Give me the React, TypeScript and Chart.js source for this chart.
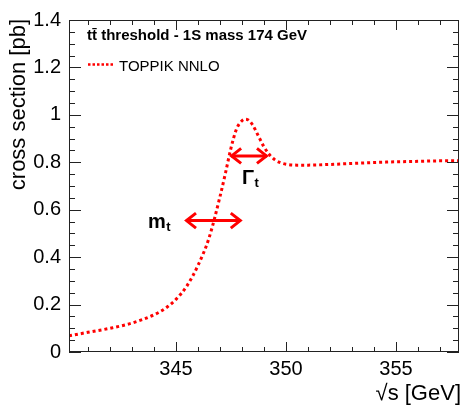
import { useEffect, useRef } from "react";
import { Chart, registerables } from "chart.js";

Chart.register(...registerables);

// ---- data ----
const energies = [
  340.14, 341, 342, 343, 344, 344.5, 345, 345.5, 346, 346.5, 347, 347.25, 347.5,
  347.75, 348, 348.15, 348.3, 348.5, 348.75, 349, 349.25, 349.5, 349.75, 350,
  350.5, 351, 352, 353, 354, 355, 356, 357, 357.86,
];
const crossSections = [
  0.068, 0.083, 0.1, 0.122, 0.157, 0.183, 0.222, 0.279, 0.365, 0.48, 0.655,
  0.755, 0.86, 0.94, 0.975, 0.982, 0.978, 0.955, 0.91, 0.865, 0.832, 0.81,
  0.798, 0.792, 0.788, 0.788, 0.791, 0.795, 0.799, 0.802, 0.804, 0.806, 0.806,
];
const xRange = [340.14, 357.86];
const yRange = [0, 1.4];
const xMajorStep = 5;
const xMinorStep = 1;
const yMajorStep = 0.2;
const yMinorStep = 0.05;
const seriesLabel = "TOPPIK NNLO";
const headerText = "t\u0074\u0304 threshold - 1S mass 174 GeV";
const xTitle = "\u221As [GeV]";
const yTitle = "cross section [pb]";
// annotation arrows (data coordinates)
const massArrow = { x0: 345.41, x1: 347.99, y: 0.554 };
const widthArrow = { x0: 347.46, x1: 349.18, y: 0.827 };
const massLabel = { x: 343.73, y: 0.522, main: "m", sub: "t" };
const widthLabel = { x: 348.0, y: 0.708, main: "\u0393", sub: "t" };

const FONT = "'Liberation Sans', Arial, Helvetica, sans-serif";
const RED = "#ff0000";

const overlay = {
  id: "rootStyle",
  afterDraw(chart: any) {
    const { ctx, chartArea } = chart;
    const { left, right, top, bottom } = chartArea;
    const xs = chart.scales.x;
    const ys = chart.scales.y;
    ctx.save();

    // frame
    ctx.strokeStyle = "#222";
    ctx.lineWidth = 1;
    ctx.strokeRect(left + 0.5, top + 0.5, right - left - 1, bottom - top - 1);

    // x ticks (inward, top and bottom)
    ctx.beginPath();
    const xStart = Math.ceil(xRange[0] / xMinorStep);
    const xEnd = Math.floor(xRange[1] / xMinorStep);
    for (let k = xStart; k <= xEnd; k++) {
      const v = k * xMinorStep;
      const len = Math.abs(v % xMajorStep) < 1e-9 ? 10 : 5;
      const px = Math.round(xs.getPixelForValue(v)) + 0.5;
      ctx.moveTo(px, bottom);
      ctx.lineTo(px, bottom - len);
      ctx.moveTo(px, top);
      ctx.lineTo(px, top + len);
    }
    // y ticks (inward, left and right)
    const nY = Math.round((yRange[1] - yRange[0]) / yMinorStep);
    const ratio = Math.round(yMajorStep / yMinorStep);
    for (let k = 0; k <= nY; k++) {
      const v = yRange[0] + k * yMinorStep;
      const len = k % ratio === 0 ? 12 : 6;
      const py = Math.round(ys.getPixelForValue(v)) + 0.5;
      ctx.moveTo(left, py);
      ctx.lineTo(left + len, py);
      ctx.moveTo(right, py);
      ctx.lineTo(right - len, py);
    }
    ctx.stroke();

    // axis titles
    ctx.fillStyle = "#000";
    ctx.font = `22px ${FONT}`;
    ctx.textAlign = "right";
    ctx.textBaseline = "alphabetic";
    ctx.fillText(xTitle, 461, 400);
    ctx.save();
    ctx.translate(25, top - 1);
    ctx.rotate(-Math.PI / 2);
    ctx.textAlign = "right";
    ctx.fillText(yTitle, 0, 0);
    ctx.restore();

    // header text
    ctx.textAlign = "left";
    ctx.font = `bold 15px ${FONT}`;
    ctx.fillText(headerText, 87, 40);

    // legend
    ctx.strokeStyle = RED;
    ctx.lineWidth = 2.5;
    ctx.setLineDash([2.5, 2]);
    ctx.beginPath();
    ctx.moveTo(88, 64.5);
    ctx.lineTo(113, 64.5);
    ctx.stroke();
    ctx.setLineDash([]);
    ctx.font = `15px ${FONT}`;
    ctx.fillStyle = "#000";
    ctx.fillText(chart.data.datasets[0].label, 119, 70.5);

    // arrows
    const drawArrow = (a: { x0: number; x1: number; y: number }) => {
      const p0 = xs.getPixelForValue(a.x0);
      const p1 = xs.getPixelForValue(a.x1);
      const py = ys.getPixelForValue(a.y);
      ctx.strokeStyle = RED;
      ctx.lineWidth = 3;
      ctx.lineJoin = "miter";
      ctx.beginPath();
      ctx.moveTo(p0 + 1, py);
      ctx.lineTo(p1 - 1, py);
      ctx.stroke();
      ctx.beginPath();
      ctx.moveTo(p0 + 11, py - 7.5);
      ctx.lineTo(p0 + 1.5, py);
      ctx.lineTo(p0 + 11, py + 7.5);
      ctx.moveTo(p1 - 11, py - 7.5);
      ctx.lineTo(p1 - 1.5, py);
      ctx.lineTo(p1 - 11, py + 7.5);
      ctx.stroke();
    };
    drawArrow(massArrow);
    drawArrow(widthArrow);

    const drawLabel = (l: { x: number; y: number; main: string; sub: string }) => {
      const px = xs.getPixelForValue(l.x);
      const py = ys.getPixelForValue(l.y);
      ctx.fillStyle = "#000";
      ctx.textAlign = "left";
      ctx.font = `bold 20px ${FONT}`;
      ctx.fillText(l.main, px, py);
      const w = ctx.measureText(l.main).width;
      ctx.font = `bold 13px ${FONT}`;
      ctx.fillText(l.sub, px + w + 0.5, py + 3);
    };
    drawLabel(massLabel);
    drawLabel(widthLabel);

    ctx.restore();
  },
};

export default function App() {
  const ref = useRef<HTMLCanvasElement | null>(null);
  useEffect(() => {
    document.body.style.margin = "0";
    const canvas = ref.current;
    if (!canvas) return;
    const chart = new Chart(canvas, {
      type: "scatter",
      data: {
        datasets: [
          {
            label: seriesLabel,
            data: energies.map((e, i) => ({ x: e, y: crossSections[i] })),
            showLine: true,
            borderColor: RED,
            backgroundColor: RED,
            borderWidth: 3,
            borderDash: [3, 3],
            pointRadius: 0,
            cubicInterpolationMode: "monotone",
            fill: false,
          },
        ],
      },
      options: {
        responsive: false,
        animation: false,
        devicePixelRatio: 1,
        layout: { padding: { left: 0, top: 14, right: 3, bottom: 0 } },
        plugins: { legend: { display: false }, tooltip: { enabled: false } },
        scales: {
          x: {
            type: "linear",
            min: xRange[0],
            max: xRange[1],
            grid: { display: false, drawTicks: false, tickLength: 0 },
            border: { display: false },
            ticks: {
              stepSize: xMajorStep,
              includeBounds: false,
              maxRotation: 0,
              padding: 5,
              color: "#000",
              font: { family: FONT, size: 20 },
              callback: (v: any) => String(Math.round(Number(v) * 100) / 100),
            },
            afterFit: (s: any) => {
              s.height = 53;
            },
          },
          y: {
            type: "linear",
            min: yRange[0],
            max: yRange[1],
            grid: { display: false, drawTicks: false, tickLength: 0 },
            border: { display: false },
            ticks: {
              stepSize: yMajorStep,
              padding: 8,
              color: "#000",
              font: { family: FONT, size: 20 },
              callback: (v: any) => String(Math.round(Number(v) * 100) / 100),
            },
            afterFit: (s: any) => {
              s.width = 69;
            },
          },
        },
      },
      plugins: [overlay],
    });
    return () => chart.destroy();
  }, []);
  return <canvas ref={ref} width={462} height={405} style={{ display: "block" }} />;
}
